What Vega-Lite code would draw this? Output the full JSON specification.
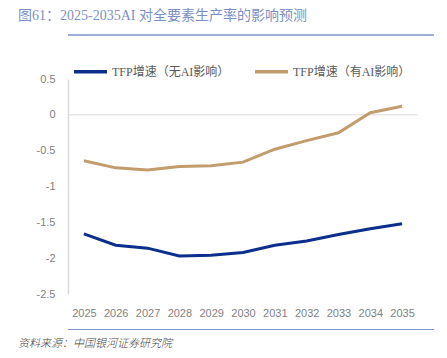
{
  "$schema": "https://vega.github.io/schema/vega-lite/v6.json",
  "padding": {"left": 18, "right": 13, "top": 9, "bottom": 5},
  "background": "white",
  "spacing": 10,
  "columns": 1,
  "align": "none",
  "resolve": {"scale": {"x": "independent", "y": "independent", "color": "independent"}, "axis": {"x": "independent", "y": "independent"}},
  "config": {
    "view": {"stroke": null},
    "axis": {"labelOverlap": false}
  },
  "concat": [
    {
      "width": 366,
      "height": 8,
      "title": {"text": "图61：2025-2035AI 对全要素生产率的影响预测", "anchor": "start", "frame": "group", "offset": 11, "dx": -50, "fontSize": 14, "font": "Liberation Serif, Noto Sans CJK SC", "fontWeight": "normal", "color": "#7b90c4"},
      "data": {"values": [{"k": 1}]},
      "mark": {"type": "rule", "color": "#7d95cb", "strokeWidth": 1.5},
      "encoding": {"y": {"datum": 1, "type": "quantitative", "scale": {"domain": [0, 1]}, "axis": null}}
    },
    {
      "width": 350,
      "height": 215,
      "data": {"values": [
        {"year": "2025", "series": "TFP增速（无AI影响）", "value": -1.66},
        {"year": "2026", "series": "TFP增速（无AI影响）", "value": -1.82},
        {"year": "2027", "series": "TFP增速（无AI影响）", "value": -1.86},
        {"year": "2028", "series": "TFP增速（无AI影响）", "value": -1.97},
        {"year": "2029", "series": "TFP增速（无AI影响）", "value": -1.96},
        {"year": "2030", "series": "TFP增速（无AI影响）", "value": -1.92},
        {"year": "2031", "series": "TFP增速（无AI影响）", "value": -1.82},
        {"year": "2032", "series": "TFP增速（无AI影响）", "value": -1.76},
        {"year": "2033", "series": "TFP增速（无AI影响）", "value": -1.67},
        {"year": "2034", "series": "TFP增速（无AI影响）", "value": -1.59},
        {"year": "2035", "series": "TFP增速（无AI影响）", "value": -1.52},
        {"year": "2025", "series": "TFP增速（有AI影响）", "value": -0.64},
        {"year": "2026", "series": "TFP增速（有AI影响）", "value": -0.74},
        {"year": "2027", "series": "TFP增速（有AI影响）", "value": -0.77},
        {"year": "2028", "series": "TFP增速（有AI影响）", "value": -0.72},
        {"year": "2029", "series": "TFP增速（有AI影响）", "value": -0.71},
        {"year": "2030", "series": "TFP增速（有AI影响）", "value": -0.66},
        {"year": "2031", "series": "TFP增速（有AI影响）", "value": -0.48},
        {"year": "2032", "series": "TFP增速（有AI影响）", "value": -0.36},
        {"year": "2033", "series": "TFP增速（有AI影响）", "value": -0.25},
        {"year": "2034", "series": "TFP增速（有AI影响）", "value": 0.03},
        {"year": "2035", "series": "TFP增速（有AI影响）", "value": 0.12}
      ]},
      "encoding": {
        "y": {"type": "quantitative", "scale": {"domain": [-2.5, 0.5], "nice": false, "zero": false},
          "axis": {"title": null, "values": [-2.5, -2, -1.5, -1, -0.5, 0, 0.5], "grid": false, "ticks": false, "domain": true, "domainColor": "#d9d9d9", "domainWidth": 1.5, "labelPadding": 13, "labelFontSize": 11, "labelColor": "#7f7f7f", "labelFont": "Liberation Sans", "labelOverlap": false, "labelFlush": false, "minExtent": 50, "labelExpr": "replace(format(datum.value, '~g'), '\u2212', '-')"}}
      },
      "layer": [
        {
          "data": {"values": [{"k": 0}]},
          "mark": {"type": "rule", "color": "#d9d9d9", "strokeWidth": 1},
          "encoding": {"y": {"datum": 0}}
        },
        {
          "mark": {"type": "line", "strokeWidth": 3},
          "encoding": {
            "x": {"field": "year", "type": "ordinal", "scale": {"type": "point", "padding": 0.5},
              "axis": {"title": null, "domain": false, "ticks": false, "labelPadding": 13, "labelAngle": 0, "labelFontSize": 11, "labelColor": "#7f7f7f", "labelFont": "Liberation Sans", "labelOverlap": false}},
            "y": {"field": "value"},
            "color": {"field": "series", "type": "nominal",
              "scale": {"domain": ["TFP增速（无AI影响）", "TFP增速（有AI影响）"], "range": ["#0c2f8c", "#c29c6c"]},
              "legend": {"title": null, "orient": "none", "legendX": 4, "legendY": -26, "direction": "horizontal", "symbolType": "stroke", "symbolStrokeWidth": 3.5, "symbolSize": 1089, "labelFontSize": 12, "labelFont": "Liberation Serif, Noto Sans CJK SC", "labelColor": "#595959", "columnPadding": 18, "labelOffset": 3}}
          }
        }
      ]
    },
    {
      "width": 366,
      "height": 1,
      "view": {"fill": "#7d95cb", "stroke": null},
      "title": {"text": "资料来源：中国银河证券研究院", "orient": "bottom", "anchor": "start", "frame": "group", "offset": 8, "dx": -50, "fontSize": 11, "fontStyle": "italic", "fontWeight": 300, "color": "#404040", "font": "Noto Sans CJK SC"},
      "data": {"values": [{"k": 1}]},
      "mark": {"type": "rule", "opacity": 0},
      "encoding": {}
    }
  ]
}
